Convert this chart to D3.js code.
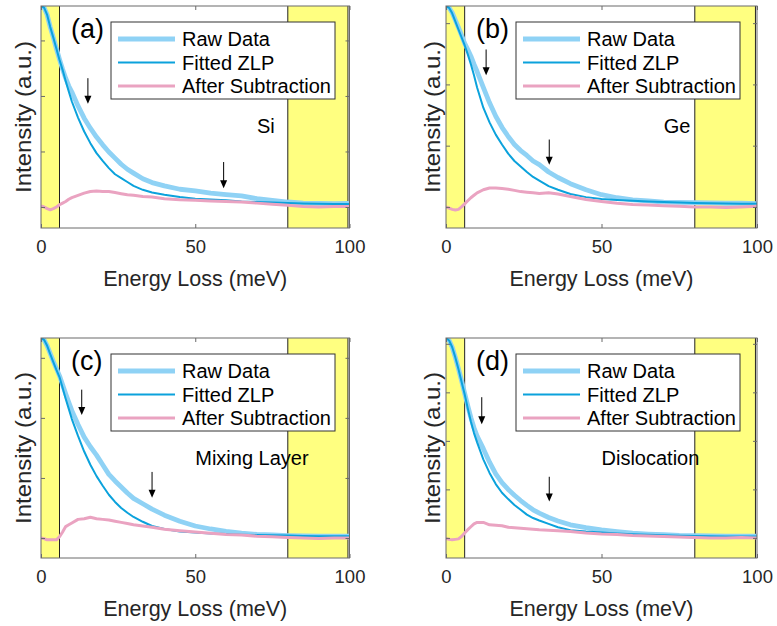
<!DOCTYPE html>
<html>
<head>
<meta charset="utf-8">
<script src="https://cdn.jsdelivr.net/npm/d3@7"></script>
<style>
body { margin: 0; background: #fff; }
text { font-family: "Liberation Sans", Arial, sans-serif; }
</style>
</head>
<body>
<script>
var width = 777,
    height = 626;

// energy grid (meV), shared by every spectrum
var energy = [0,1,2,3,4,5,6,7,8,9,10,12,14,16,18,20,22,24,26,28,30,33,36,40,45,50,55,60,65,70,75,80,85,90,95,100];

var tags = ["(a)", "(b)", "(c)", "(d)"];
var regions = ["Si", "Ge", "Mixing Layer", "Dislocation"];
var seriesNames = ["Raw Data", "Fitted ZLP", "After Subtraction"];

// (a) Si
var rawA = [3.62,3.59,3.46,3.24,3.05,2.85,2.66,2.48,2.32,2.18,2.07,1.82,1.60,1.42,1.26,1.12,0.99,0.88,0.77,0.68,0.61,0.51,0.44,0.38,0.32,0.29,0.25,0.225,0.20,0.15,0.12,0.09,0.07,0.065,0.06,0.063];
var fitA = [3.62,3.59,3.46,3.24,3.05,2.85,2.65,2.47,2.27,2.08,1.90,1.61,1.36,1.15,0.97,0.83,0.70,0.59,0.52,0.45,0.38,0.31,0.26,0.22,0.18,0.15,0.135,0.12,0.10,0.09,0.08,0.07,0.063,0.06,0.054,0.054];
var subA = [0.02,0.0,-0.03,-0.05,-0.03,0.0,0.04,0.07,0.10,0.14,0.17,0.21,0.25,0.28,0.29,0.28,0.28,0.26,0.24,0.22,0.21,0.19,0.18,0.15,0.13,0.12,0.11,0.10,0.09,0.07,0.05,0.03,0.01,0.0,0.01,0.01];

// (b) Ge
var rawB = [3.28,3.25,3.17,3.05,2.93,2.80,2.67,2.57,2.46,2.33,2.21,1.95,1.70,1.48,1.30,1.15,1.02,0.92,0.84,0.75,0.69,0.57,0.48,0.38,0.28,0.20,0.15,0.115,0.10,0.08,0.075,0.07,0.065,0.06,0.06,0.055];
var fitB = [3.28,3.25,3.16,3.03,2.90,2.77,2.64,2.49,2.33,2.15,1.95,1.62,1.38,1.18,1.02,0.87,0.75,0.66,0.57,0.49,0.43,0.34,0.28,0.21,0.16,0.13,0.115,0.10,0.09,0.08,0.074,0.066,0.06,0.055,0.05,0.05];
var subB = [0.0,-0.02,-0.04,-0.05,-0.04,0.0,0.05,0.10,0.15,0.19,0.23,0.28,0.31,0.31,0.30,0.29,0.27,0.25,0.24,0.23,0.22,0.23,0.21,0.17,0.12,0.09,0.06,0.04,0.03,0.02,0.01,0.0,0.0,-0.01,0.0,0.01];

// (c) Mixing Layer
var rawC = [3.33,3.30,3.20,3.07,2.94,2.82,2.70,2.55,2.40,2.26,2.12,1.89,1.68,1.52,1.38,1.22,1.06,0.95,0.85,0.75,0.66,0.57,0.48,0.38,0.28,0.20,0.15,0.11,0.08,0.06,0.05,0.04,0.035,0.03,0.03,0.03];
var fitC = [3.33,3.30,3.20,3.06,2.93,2.80,2.68,2.50,2.32,2.15,1.98,1.70,1.44,1.22,1.03,0.87,0.72,0.60,0.50,0.42,0.35,0.27,0.20,0.15,0.11,0.09,0.075,0.065,0.055,0.05,0.045,0.04,0.035,0.03,0.03,0.03];
var subC = [0.0,-0.01,-0.03,-0.03,-0.03,-0.03,0.02,0.10,0.19,0.22,0.25,0.31,0.32,0.345,0.32,0.31,0.30,0.28,0.26,0.24,0.22,0.20,0.18,0.145,0.12,0.10,0.08,0.06,0.05,0.03,0.02,0.01,0.0,-0.01,0.0,0.0];

// (d) Dislocation
var rawD = [4.12,4.07,3.93,3.72,3.49,3.24,2.98,2.72,2.48,2.27,2.10,1.84,1.56,1.32,1.14,1.00,0.88,0.77,0.67,0.58,0.51,0.42,0.35,0.27,0.21,0.165,0.13,0.10,0.08,0.065,0.05,0.045,0.04,0.035,0.035,0.035];
var fitD = [4.12,4.07,3.93,3.72,3.48,3.22,2.96,2.67,2.40,2.16,1.97,1.62,1.34,1.11,0.93,0.80,0.68,0.58,0.48,0.41,0.36,0.29,0.22,0.16,0.13,0.11,0.09,0.077,0.065,0.055,0.045,0.04,0.035,0.03,0.03,0.03];
var subD = [-0.01,-0.03,-0.04,-0.03,-0.02,0.03,0.10,0.17,0.23,0.29,0.32,0.32,0.27,0.26,0.25,0.22,0.21,0.20,0.19,0.18,0.17,0.16,0.15,0.13,0.10,0.08,0.07,0.05,0.04,0.03,0.02,0.01,0.0,0.0,0.01,0.0];

// axis limits and ticks (arbitrary intensity units)
var yMin = [-0.378, -0.344, -0.333, -0.414];
var yMax = [3.62, 3.28, 3.33, 4.12];
var yTicks = [[0,1,2,3], [0,1,2,3], [0,1,2,3], [0,1,2,3,4]];
var xTicks = [0, 50, 100];

// shaded fitting windows (meV)
var windows = [[0, 6], [80, 99.5]];

// arrows: energy, start value, tip value
var arrowE = [[15.2, 59.2], [12.9, 33.2], [13.2, 36.0], [11.5, 33.2]];
var arrowFrom = [[2.32, 0.81], [2.57, 1.10], [2.47, 1.10], [2.90, 1.26]];
var arrowTo = [[1.86, 0.34], [2.15, 0.69], [2.05, 0.67], [2.34, 0.75]];

var colors = ["#8fd2f5", "#0ba2dc", "#eaa3c1"];
var widths = [4.8, 2, 3];

var cols = [{x0: 41, x1: 349.5, labX: 23}, {x0: 446, x1: 757, labX: 432}];
var rows = [{y0: 6, y1: 228}, {y0: 338, y1: 558}];
var regionAt = [70, 70, 50, 50];

var data = [[rawA, fitA, subA], [rawB, fitB, subB], [rawC, fitC, subC], [rawD, fitD, subD]];

var svg = d3.select("body").append("svg")
    .attr("width", width)
    .attr("height", height);

data.forEach(function(series, i) {
    var c = cols[i % 2], r = rows[Math.floor(i / 2)];
    var w = c.x1 - c.x0, h = r.y1 - r.y0;

    var x = d3.scaleLinear().domain([0, 100]).range([0, w]);
    var y = d3.scaleLinear().domain([yMin[i], yMax[i]]).range([h, 0]);

    var g = svg.append("g")
        .attr("transform", "translate(" + c.x0 + "," + r.y0 + ")");

    g.append("clipPath").attr("id", "clip" + i)
        .append("rect").attr("width", w).attr("height", h);

    // yellow windows
    g.selectAll("rect.win")
        .data(windows)
        .enter().append("rect")
        .attr("class", "win")
        .attr("x", function(d) { return x(d[0]); })
        .attr("y", 0)
        .attr("width", function(d) { return x(d[1]) - x(d[0]); })
        .attr("height", h)
        .attr("fill", "#ffff80");

    g.selectAll("line.edge")
        .data([windows[0][1], windows[1][0], windows[1][1]])
        .enter().append("line")
        .attr("class", "edge")
        .attr("x1", function(d) { return x(d); })
        .attr("x2", function(d) { return x(d); })
        .attr("y1", 0).attr("y2", h)
        .attr("stroke", "#222")
        .attr("stroke-width", 1);

    var line = d3.line()
        .x(function(d, j) { return x(energy[j]); })
        .y(function(d) { return y(d); });

    var plot = g.append("g").attr("clip-path", "url(#clip" + i + ")");
    series.forEach(function(s, k) {
        plot.append("path")
            .datum(s)
            .attr("fill", "none")
            .attr("stroke", colors[k])
            .attr("stroke-width", widths[k])
            .attr("stroke-linejoin", "round")
            .attr("d", line);
    });

    // arrows
    arrowE[i].forEach(function(e, k) {
        var ax = x(e), y1 = y(arrowFrom[i][k]), y2 = y(arrowTo[i][k]);
        g.append("line")
            .attr("x1", ax).attr("x2", ax)
            .attr("y1", y1).attr("y2", y2 - 7)
            .attr("stroke", "#000").attr("stroke-width", 1);
        g.append("path")
            .attr("d", "M" + (ax - 3.5) + "," + (y2 - 8) + "L" + (ax + 3.5) + "," + (y2 - 8) + "L" + ax + "," + y2 + "Z")
            .attr("fill", "#000");
    });

    // box and ticks
    g.append("rect")
        .attr("width", w).attr("height", h)
        .attr("fill", "none")
        .attr("stroke", "#6a6a6a")
        .attr("stroke-width", 1);

    var xb = g.append("g")
        .attr("transform", "translate(0," + h + ")")
        .call(d3.axisBottom(x).tickValues(xTicks).tickSize(-4).tickPadding(12).tickFormat(d3.format("d")));
    g.append("g")
        .call(d3.axisTop(x).tickValues(xTicks).tickSize(-4).tickFormat(""));
    g.append("g")
        .call(d3.axisLeft(y).tickValues(yTicks[i]).tickSize(-4).tickFormat(""));
    g.append("g")
        .attr("transform", "translate(" + w + ",0)")
        .call(d3.axisRight(y).tickValues(yTicks[i]).tickSize(-4).tickFormat(""));

    g.selectAll(".domain").remove();
    g.selectAll(".tick line").attr("stroke", "#6a6a6a");
    xb.selectAll("text")
        .attr("fill", "#262626")
        .style("font-size", "18.5px")
        .style("font-family", "'Liberation Sans', Arial, sans-serif");

    g.append("text")
        .attr("x", w / 2)
        .attr("y", h + 58)
        .attr("text-anchor", "middle")
        .attr("fill", "#262626")
        .style("font-size", "21.5px")
        .text("Energy Loss (meV)");

    svg.append("text")
        .attr("transform", "translate(" + c.labX + "," + (r.y0 + h / 2) + ") rotate(-90)")
        .attr("dy", "0.35em")
        .attr("text-anchor", "middle")
        .attr("fill", "#262626")
        .attr("textLength", 152)
        .attr("lengthAdjust", "spacingAndGlyphs")
        .style("font-size", "21.5px")
        .text("Intensity (a.u.)");

    // panel tag and region name
    g.append("text")
        .attr("x", 30).attr("y", 32)
        .attr("fill", "#000")
        .style("font-size", "27px")
        .text(tags[i]);

    g.append("text")
        .attr("x", x(regionAt[i])).attr("y", 127)
        .attr("fill", "#000")
        .style("font-size", "20px")
        .text(regions[i]);

    // legend
    var lg = g.append("g").attr("transform", "translate(70,16)");
    lg.append("rect")
        .attr("width", 224).attr("height", 77)
        .attr("fill", "#fff")
        .attr("stroke", "#333")
        .attr("stroke-width", 1);
    seriesNames.forEach(function(name, k) {
        var ly = 17 + k * 23.5;
        lg.append("line")
            .attr("x1", 7).attr("x2", 64)
            .attr("y1", ly).attr("y2", ly)
            .attr("stroke", colors[k])
            .attr("stroke-width", widths[k]);
        lg.append("text")
            .attr("x", 71).attr("y", ly + 7)
            .attr("fill", "#000")
            .style("font-size", "20px")
            .text(name);
    });
});
</script>
</body>
</html>
